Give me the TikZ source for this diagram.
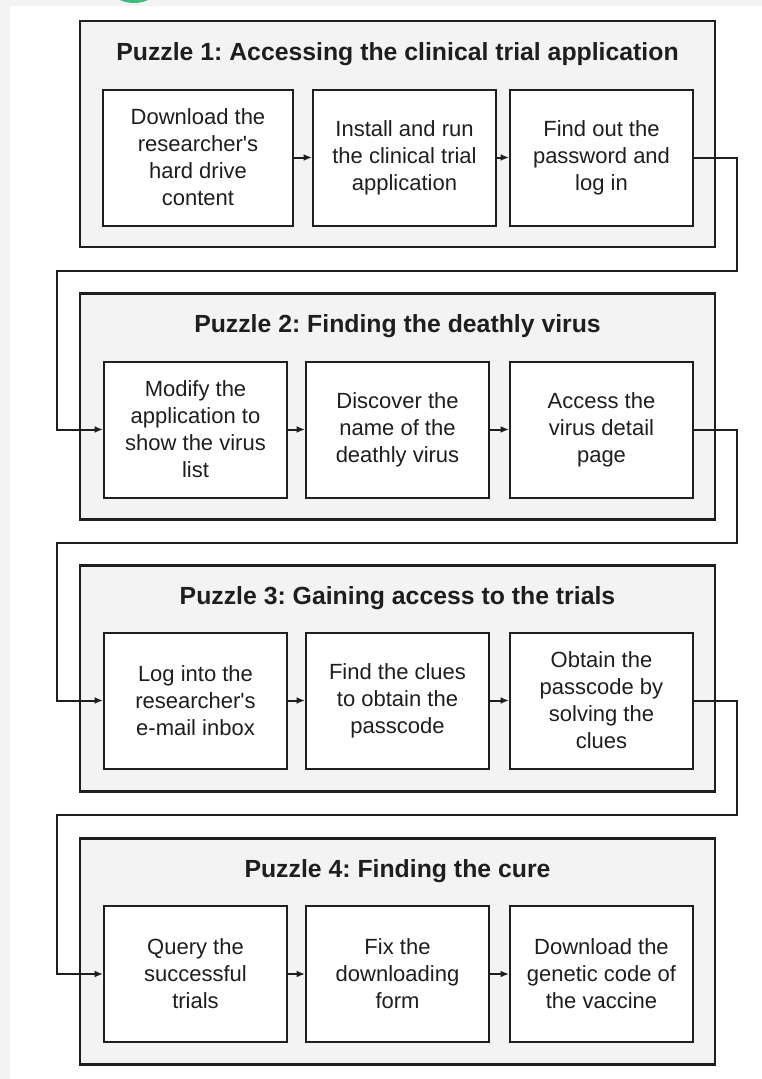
\documentclass[tikz,border=0pt]{standalone}
\usepackage{fontspec}
\setmainfont{Liberation Sans}[Ligatures=TeXOff]
\usetikzlibrary{arrows.meta}
\definecolor{pagegray}{HTML}{F3F3F3}
\definecolor{panelgray}{HTML}{F3F3F3}
\definecolor{ink}{HTML}{1E1E1E}
\definecolor{badge}{HTML}{3DBA7E}
\frenchspacing

\begin{document}
\begin{tikzpicture}[x=1pt,y=-1pt,
  puzzle/.style={draw=ink, line width=2.2pt, fill=panelgray, inner sep=0pt,
    minimum width=635pt, minimum height=226pt},
  stepbox/.style={draw=ink, line width=2pt, fill=white, align=center,
    font=\fontsize{22}{27}\selectfont, text=ink, inner sep=0pt,
    minimum width=183pt, minimum height=136pt},
  ptitle/.style={font=\fontsize{24.8}{29}\selectfont\bfseries, text=ink, anchor=base},
  flow/.style={draw=ink, line width=2pt, -{Latex[length=8.5pt,width=7pt]}},
]
\useasboundingbox (0,0) rectangle (762,1079);
% page background and white sheet
\fill[pagegray] (0,0) rectangle (762,1079);
\fill[white] (10,6) rectangle (762,1079);
\begin{scope}
  \clip (0,0) rectangle (762,6);
  \fill[badge] (134,-31) circle (34);
\end{scope}

% routing lanes for the links between puzzles
\coordinate (rx) at (737,0);
\coordinate (lx) at (57,0);
\coordinate (g1) at (0,271);
\coordinate (g2) at (0,543);
\coordinate (g3) at (0,815);

% Puzzle 1
\node[puzzle] (p1) at (397.5,134) {};
\node[ptitle] (t1) at (397.5,60) {Puzzle 1: Accessing the clinical trial application};
\node[stepbox, minimum width=190pt] (a1) at (198,157.5) {Download the\\researcher's\\hard drive\\content};
\node[stepbox] (a2) at (404.5,157.5) {Install and run\\the clinical trial\\application};
\node[stepbox] (a3) at (601.5,157.5) {Find out the\\password and\\log in};

% Puzzle 2
\node[puzzle] (p2) at (397.5,406.5) {};
\node[ptitle] (t2) at (397.5,332) {Puzzle 2: Finding the deathly virus};
\node[stepbox] (b1) at (195.5,429.5) {Modify the\\application to\\show the virus\\list};
\node[stepbox] (b2) at (397.5,429.5) {Discover the\\name of the\\deathly virus};
\node[stepbox] (b3) at (601.5,429.5) {Access the\\virus detail\\page};

% Puzzle 3
\node[puzzle] (p3) at (397.5,678.5) {};
\node[ptitle] (t3) at (397.5,604) {Puzzle 3: Gaining access to the trials};
\node[stepbox] (c1) at (195.5,700.5) {Log into the\\researcher's\\e-mail inbox};
\node[stepbox] (c2) at (397.5,700.5) {Find the clues\\to obtain the\\passcode};
\node[stepbox] (c3) at (601.5,700.5) {Obtain the\\passcode by\\solving the\\clues};

% Puzzle 4
\node[puzzle] (p4) at (397.5,951.5) {};
\node[ptitle] (t4) at (397.5,877) {Puzzle 4: Finding the cure};
\node[stepbox] (d1) at (195.5,974) {Query the\\successful\\trials};
\node[stepbox] (d2) at (397.5,974) {Fix the\\downloading\\form};
\node[stepbox] (d3) at (601.5,974) {Download the\\genetic code of\\the vaccine};

% steps inside each puzzle
\draw[flow] (a1.east) -- (a2.west);
\draw[flow] (a2.east) -- (a3.west);
\draw[flow] (b1.east) -- (b2.west);
\draw[flow] (b2.east) -- (b3.west);
\draw[flow] (c1.east) -- (c2.west);
\draw[flow] (c2.east) -- (c3.west);
\draw[flow] (d1.east) -- (d2.west);
\draw[flow] (d2.east) -- (d3.west);

% links from one puzzle to the next
\draw[flow] (a3.east) -- (a3.east -| rx) -- (rx |- g1) -- (lx |- g1) -- (lx |- b1.west) -- (b1.west);
\draw[flow] (b3.east) -- (b3.east -| rx) -- (rx |- g2) -- (lx |- g2) -- (lx |- c1.west) -- (c1.west);
\draw[flow] (c3.east) -- (c3.east -| rx) -- (rx |- g3) -- (lx |- g3) -- (lx |- d1.west) -- (d1.west);
\end{tikzpicture}
\end{document}
